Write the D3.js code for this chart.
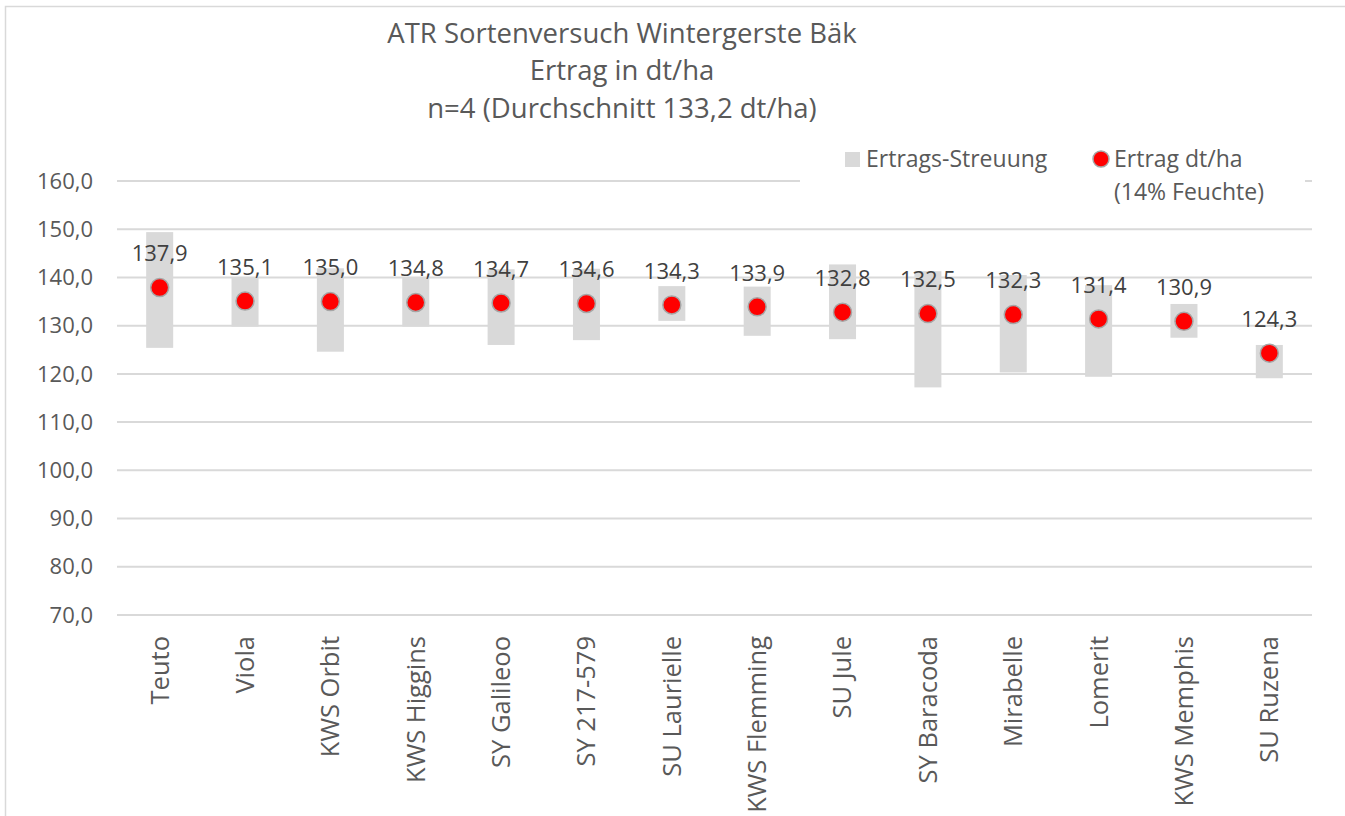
<!DOCTYPE html>
<html>
<head>
<meta charset="utf-8">
<script src="https://cdn.jsdelivr.net/npm/d3@7"></script>
<style>
  body { margin: 0; background: #fff; }
  text { font-family: "Open Sans", sans-serif; }
</style>
</head>
<body>
<svg id="chart" width="1345" height="816"></svg>
<script>
// Sorten, Ertrag und Spannweite (min/max) in dt/ha
const sorten = ["Teuto", "Viola", "KWS Orbit", "KWS Higgins", "SY Galileoo", "SY 217-579",
  "SU Laurielle", "KWS Flemming", "SU Jule", "SY Baracoda", "Mirabelle", "Lomerit",
  "KWS Memphis", "SU Ruzena"];
const ertrag = [137.9, 135.1, 135.0, 134.8, 134.7, 134.6, 134.3, 133.9, 132.8, 132.5, 132.3, 131.4, 130.9, 124.3];
const ertragMin = [125.4, 129.8, 124.6, 129.8, 126.0, 127.0, 131.0, 127.9, 127.2, 117.2, 120.3, 119.4, 127.5, 119.1];
const ertragMax = [149.4, 140.0, 141.9, 140.0, 141.7, 141.8, 138.2, 138.1, 142.7, 141.3, 140.5, 138.4, 134.5, 126.0];
const yTicks = [70, 80, 90, 100, 110, 120, 130, 140, 150, 160];
const titel = ["ATR Sortenversuch Wintergerste Bäk", "Ertrag in dt/ha", "n=4 (Durchschnitt 133,2 dt/ha)"];

const data = sorten.map((s, i) => ({ name: s, value: ertrag[i], lo: ertragMin[i], hi: ertragMax[i] }));

const svg = d3.select("#chart");
const width = 1345;
const marginLeft = 117;
const marginRight = 33;
const plotTop = 181;
const plotBottom = 615;
const textColor = "#595959";
const fmt = (v) => v.toFixed(1).replace(".", ",");

// outer frame (only left and top edge visible)
svg.append("rect")
  .attr("x", 5.5).attr("y", 6.5)
  .attr("width", 1400).attr("height", 900)
  .attr("fill", "#fff")
  .attr("stroke", "#d9d9d9")
  .attr("stroke-width", 1.5);

const x = d3.scaleBand(sorten, [marginLeft, width - marginRight]);
const y = d3.scaleLinear([70, 160], [plotBottom, plotTop]);

// gridlines
svg.append("g")
  .selectAll("line")
  .data(yTicks)
  .join("line")
  .attr("x1", marginLeft)
  .attr("x2", width - marginRight)
  .attr("y1", (d) => y(d))
  .attr("y2", (d) => y(d))
  .attr("stroke", "#d9d9d9")
  .attr("stroke-width", 2);

// y axis labels
svg.append("g")
  .selectAll("text")
  .data(yTicks)
  .join("text")
  .attr("x", 93)
  .attr("y", (d) => y(d))
  .attr("dy", "0.35em")
  .attr("text-anchor", "end")
  .attr("font-size", 22)
  .attr("fill", textColor)
  .text(fmt);

// x axis labels
svg.append("g")
  .selectAll("text")
  .data(sorten)
  .join("text")
  .attr("transform", (d) => `translate(${x(d) + x.bandwidth() / 2},${plotBottom + 21}) rotate(-90)`)
  .attr("dy", "0.35em")
  .attr("text-anchor", "end")
  .attr("font-size", 25.5)
  .attr("fill", textColor)
  .text((d) => d);

// Streuung bars
const barW = 27;
svg.append("g")
  .selectAll("rect")
  .data(data)
  .join("rect")
  .attr("x", (d) => x(d.name) + x.bandwidth() / 2 - barW / 2)
  .attr("width", barW)
  .attr("y", (d) => y(d.hi))
  .attr("height", (d) => y(d.lo) - y(d.hi))
  .attr("fill", "#d9d9d9");

// Ertrag points
svg.append("g")
  .selectAll("circle")
  .data(data)
  .join("circle")
  .attr("cx", (d) => x(d.name) + x.bandwidth() / 2)
  .attr("cy", (d) => y(d.value))
  .attr("r", 9)
  .attr("fill", "#ff0000")
  .attr("stroke", "#a6a6a6")
  .attr("stroke-width", 1.5);

// value labels
svg.append("g")
  .selectAll("text")
  .data(data)
  .join("text")
  .attr("x", (d) => x(d.name) + x.bandwidth() / 2)
  .attr("y", (d) => y(d.value) - 34)
  .attr("dy", "0.35em")
  .attr("text-anchor", "middle")
  .attr("font-size", 22)
  .attr("fill", "#404040")
  .text((d) => fmt(d.value));

// title
svg.append("g")
  .selectAll("text")
  .data(titel)
  .join("text")
  .attr("x", 622)
  .attr("y", (d, i) => 33 + i * 37.5)
  .attr("dy", "0.35em")
  .attr("text-anchor", "middle")
  .attr("font-size", 27.5)
  .attr("fill", textColor)
  .text((d) => d);

// legend
const legend = svg.append("g");
legend.append("rect")
  .attr("x", 800).attr("y", 140)
  .attr("width", 505).attr("height", 70)
  .attr("fill", "#fff");
legend.append("rect")
  .attr("x", 845).attr("y", 152)
  .attr("width", 15).attr("height", 15)
  .attr("fill", "#d9d9d9");
legend.append("text")
  .attr("x", 866).attr("y", 159)
  .attr("dy", "0.35em")
  .attr("font-size", 23)
  .attr("fill", textColor)
  .text("Ertrags-Streuung");
legend.append("circle")
  .attr("cx", 1101).attr("cy", 159)
  .attr("r", 8)
  .attr("fill", "#ff0000")
  .attr("stroke", "#a6a6a6")
  .attr("stroke-width", 1.5);
legend.append("text")
  .attr("x", 1114).attr("y", 159)
  .attr("dy", "0.35em")
  .attr("font-size", 23)
  .attr("fill", textColor)
  .text("Ertrag dt/ha");
legend.append("text")
  .attr("x", 1114).attr("y", 192)
  .attr("dy", "0.35em")
  .attr("font-size", 23)
  .attr("fill", textColor)
  .text("(14% Feuchte)");
</script>
</body>
</html>
